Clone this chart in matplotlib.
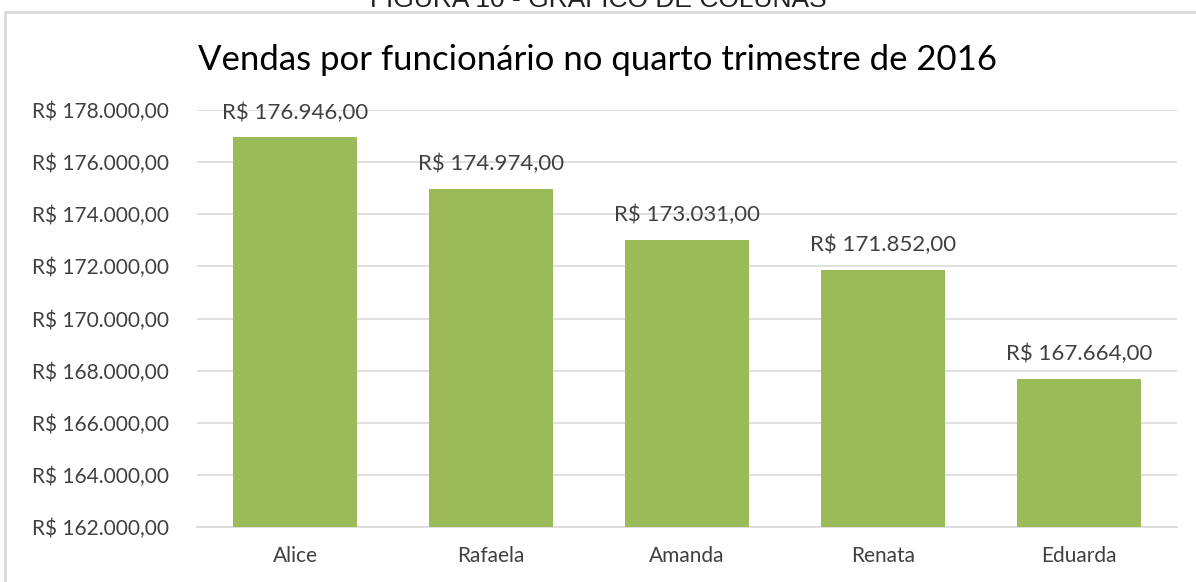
import matplotlib.pyplot as plt
from matplotlib.ticker import FuncFormatter, MultipleLocator
from matplotlib.patches import Rectangle

# dados
funcionarios = ["Alice", "Rafaela", "Amanda", "Renata", "Eduarda"]
vendas = [176946, 174974, 173031, 171852, 167664]


def reais(v, pos=None):
    s = "{:,.2f}".format(v)
    s = s.replace(",", "X").replace(".", ",").replace("X", ".")
    return "R$ " + s


plt.rcParams["font.family"] = ["Lato", "DejaVu Sans"]
texto = "#404040"

fig = plt.figure(figsize=(11.96, 5.82), dpi=100)
ax = fig.add_axes([197 / 1196, 1 - 527 / 582, 980 / 1196, 417 / 582])

x = range(len(funcionarios))
bars = ax.bar(x, vendas, width=0.633, color="#9BBB59", zorder=3)
for b, v in zip(bars, vendas):
    ax.annotate(reais(v), (b.get_x() + b.get_width() / 2, v), xytext=(0, 25),
                textcoords="offset pixels", ha="center", va="center",
                fontsize=16, color=texto)

ax.set_xlim(-0.5, len(funcionarios) - 0.5)
ax.set_ylim(162000, 178000)
ax.yaxis.set_major_locator(MultipleLocator(2000))
ax.yaxis.set_major_formatter(FuncFormatter(reais))
ax.set_xticks(list(x))
ax.set_xticklabels(funcionarios)
ax.tick_params(axis="both", length=0, labelsize=15, labelcolor=texto)
ax.tick_params(axis="y", pad=20)
ax.tick_params(axis="x", pad=14)
ax.grid(axis="y", color="#d9d9d9", linewidth=1.2, zorder=0)
for s in ["top", "right", "left"]:
    ax.spines[s].set_visible(False)
ax.spines["bottom"].set_color("#d9d9d9")
ax.spines["bottom"].set_linewidth(1.2)

fig.text(0.5, 1 - 60 / 582, "Vendas por funcionário no quarto trimestre de 2016",
         ha="center", va="center", fontsize=25, color="black")

# moldura do grafico e legenda cortada no topo
fig.patches.append(Rectangle((5 / 1196, -0.1), 1.2, 1 - 12 / 582 + 0.1,
                             transform=fig.transFigure, fill=False,
                             edgecolor="#d9d9d9", linewidth=2))
fig.text(0.5, 1.0, "FIGURA 10 - GRÁFICO DE COLUNAS", ha="center", va="center",
         fontsize=19, family="Liberation Sans", color="#222222")

fig.savefig("out.png", dpi=100)
